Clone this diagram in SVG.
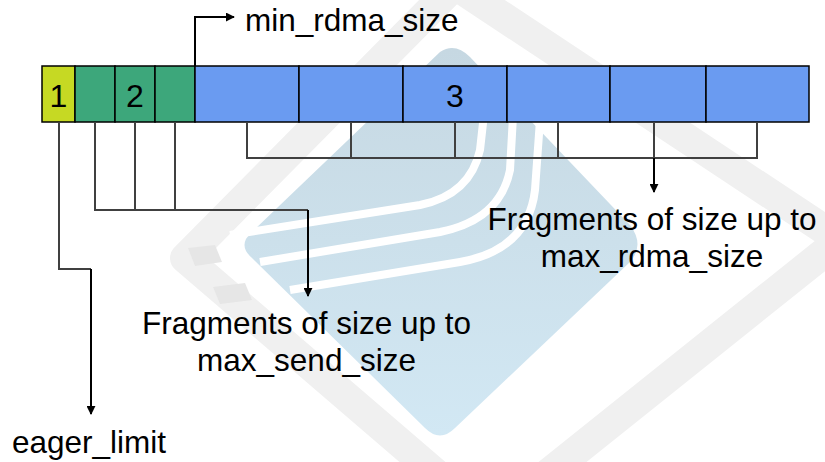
<svg xmlns="http://www.w3.org/2000/svg" width="825" height="462" viewBox="0 0 825 462">
  <style>
    .lbl { font-family: "Liberation Sans", Arial, sans-serif; font-size: 31.5px; fill: #000; }
    .num { font-family: "Liberation Sans", Arial, sans-serif; font-size: 32px; fill: #000; text-anchor: middle; }
    .cell { stroke: #000; stroke-width: 1.5; }
    .c1 { fill: #c6d923; }
    .c2 { fill: #3da77b; }
    .c3 { fill: #6a9bf1; }
    .br { fill: none; stroke: #404040; stroke-width: 2; }
    .arr { fill: none; stroke: #000; stroke-width: 2; }
  </style>
  <defs>
    <marker id="ah" viewBox="0 0 10 10" refX="9" refY="5" markerWidth="4.5" markerHeight="4.5" orient="auto" markerUnits="strokeWidth">
      <path d="M0,0 L10,5 L0,10 Z" fill="#000"/>
    </marker>
    <linearGradient id="wm" x1="0" y1="0" x2="0" y2="1">
      <stop offset="0" stop-color="#c6d8e2"/>
      <stop offset="1" stop-color="#d2e8f4"/>
    </linearGradient>
  </defs>
  <rect width="825" height="462" fill="#fff"/>

  <g id="watermark">
    <path d="M455,-15 L840,240 L490,520 L185,258 Z" fill="none" stroke="#f0f0f0" stroke-width="30" stroke-linejoin="round"/>
    <path d="M440,52 Q455,42 470,57 L630,225 Q645,245 630,262 L455,428 Q440,443 425,428 L252,258 Q237,245 252,232 Z" fill="url(#wm)"/>
    <path d="M230,235 L420,205 Q470,195 480,150 L490,60" fill="none" stroke="#fff" stroke-width="8"/>
    <path d="M260,262 L440,232 Q500,220 510,170 L515,80" fill="none" stroke="#fff" stroke-width="8"/>
    <path d="M290,290 L460,262 Q528,250 535,190 L540,120" fill="none" stroke="#fff" stroke-width="8"/>
    <path d="M188,248 L215,245 L222,262 L195,266 Z" fill="#e6e6e6"/>
    <path d="M213,287 L245,283 L252,300 L220,304 Z" fill="#e6e6e6"/>
  </g>

  <g id="bar">
    <g id="cell1"><rect class="cell c1" x="42" y="66" width="33" height="56"/><text class="num" x="58.5" y="107">1</text></g>
    <g id="cell2a"><rect class="cell c2" x="75" y="66" width="40" height="56"/></g>
    <g id="cell2b"><rect class="cell c2" x="115" y="66" width="40" height="56"/><text class="num" x="135" y="107">2</text></g>
    <g id="cell2c"><rect class="cell c2" x="155" y="66" width="40" height="56"/></g>
    <g id="cell3a"><rect class="cell c3" x="195" y="66" width="104" height="56"/></g>
    <g id="cell3b"><rect class="cell c3" x="299" y="66" width="104" height="56"/></g>
    <g id="cell3c"><rect class="cell c3" x="403" y="66" width="104" height="56"/><text class="num" x="455" y="107">3</text></g>
    <g id="cell3d"><rect class="cell c3" x="507" y="66" width="103" height="56"/></g>
    <g id="cell3e"><rect class="cell c3" x="610" y="66" width="96" height="56"/></g>
    <g id="cell3f"><rect class="cell c3" x="706" y="66" width="103" height="56"/></g>
  </g>

  <g id="connectors">
    <path class="br" d="M247,122 V158 H757 V122 M351,122 V158 M455,122 V158 M558,122 V158"/>
    <path class="br" d="M654,122 V158"/>
    <path class="arr" d="M654,158 V192" marker-end="url(#ah)"/>
    <path class="br" d="M95,122 V210 H308 M135,122 V210 M175,122 V210"/>
    <path class="arr" d="M308,210 V296" marker-end="url(#ah)"/>
    <path class="br" d="M59,122 V269 H91"/>
    <path class="arr" d="M91,269 V414" marker-end="url(#ah)"/>
    <path class="arr" d="M195,66 V17 H234" marker-end="url(#ah)"/>
  </g>

  <g id="labels">
    <text class="lbl" x="245" y="31">min_rdma_size</text>
    <text class="lbl" x="652" y="230" text-anchor="middle">Fragments of size up to</text>
    <text class="lbl" x="652" y="267" text-anchor="middle">max_rdma_size</text>
    <text class="lbl" x="306.5" y="334" text-anchor="middle">Fragments of size up to</text>
    <text class="lbl" x="306.5" y="371" text-anchor="middle">max_send_size</text>
    <text class="lbl" x="12" y="453">eager_limit</text>
  </g>
</svg>
